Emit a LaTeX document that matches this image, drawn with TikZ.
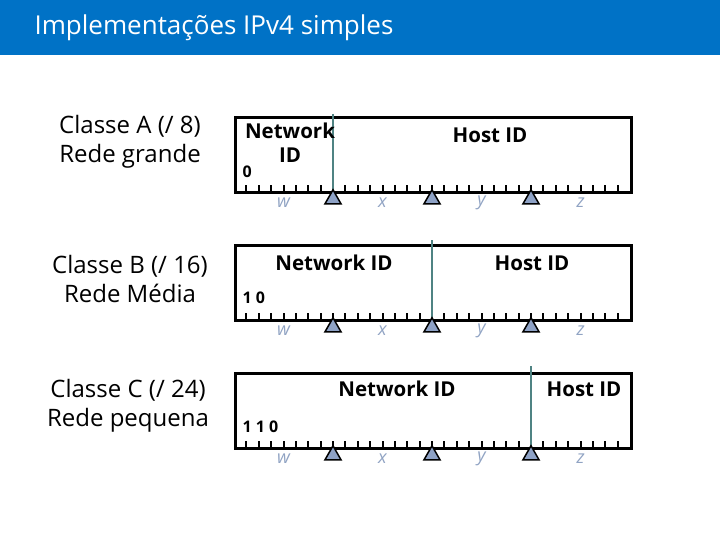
\documentclass[tikz,border=0pt]{standalone}
\usepackage{fontspec}
\setmainfont{Open Sans}
\usepackage{xcolor}
\usetikzlibrary{positioning, calc}
\definecolor{titleblue}{HTML}{0072C6}
\definecolor{divteal}{HTML}{4F8383}
\definecolor{markfill}{HTML}{8EA2C6}
\definecolor{bitgray}{HTML}{90A3C3}

\begin{document}
\begin{tikzpicture}[x=1pt,y=-1pt,
    field/.style={draw, line width=2.8pt, minimum width=396pt, minimum height=75pt, inner sep=0pt, anchor=north west},
    bittick/.style={line width=2pt},
    divider/.style={draw=divteal, line width=2.4pt},
    marktri/.style={fill=markfill, draw=black, line width=1.5pt, line join=miter},
    bitname/.style={text=bitgray, font=\fontsize{18}{20}\selectfont\itshape},
    classlabel/.style={align=center, font=\fontsize{24}{29}\selectfont},
    idlabel/.style={align=center, font=\fontsize{20.5}{24}\selectfont\bfseries},
    leadbits/.style={anchor=west, font=\fontsize{16}{18}\selectfont\bfseries}]
  \useasboundingbox (0,0) rectangle (720,540);
  \fill[titleblue] (0,0) rectangle (720,55);
  \node[anchor=west, text=white, font=\fontsize{26}{30}\selectfont] (title) at (31,28) {Implementações IPv4 simples};

  % class labels on the left
  \node[classlabel] (classA) at (130,142) {Classe A (/ 8)\\Rede grande};
  \node[classlabel] (classB) at (130,279) {Classe B (/ 16)\\Rede Média};
  \node[classlabel] (classC) at (128,406) {Classe C (/ 24)\\Rede pequena};

  % the three 32 bit fields
  \foreach \r/\t/\s in {A/116/8, B/244/16, C/372/24} {
    \node[field] (box\r) at (234,\t) {};
    \foreach \i in {1,...,31}
      \draw[bittick] ([xshift=\i*12.375pt]box\r.south west) -- ++(0,-9);
    \coordinate (top\r) at ($(box\r.north west)+(\s*12.375,0)$);
    \coordinate (cut\r) at ($(box\r.south west)+(\s*12.375,-3)$);
    \draw[divider] (top\r) ++(0,-\s/4) -- (cut\r);
    \foreach \k in {1,2,3}
      \draw[marktri] ($(box\r.south west)+(\k*99,-4)$) -- ++(-8,14) -- ++(16,0) -- cycle;
    \foreach \b/\n in {4/w, 12/x, 20/y, 28/z}
      \node[bitname] (\n\r) at ($(box\r.south west)+(\b*12.375,9)$) {\n};
  }

  % class A
  \node[idlabel] (netA) at (290,143) {Network\\ID};
  \node[idlabel] (hostA) at (490,135) {Host ID};
  \node[leadbits] (preA) at (239,172) {0};
  % class B
  \node[idlabel] (netB) at (334,263) {Network ID};
  \node[idlabel] (hostB) at (532,263) {Host ID};
  \node[leadbits] (preB) at (239,298) {1 0};
  % class C
  \node[idlabel] (netC) at (397,389) {Network ID};
  \node[idlabel] (hostC) at (584,389) {Host ID};
  \node[leadbits] (preC) at (239,427) {1 1 0};
\end{tikzpicture}
\end{document}
